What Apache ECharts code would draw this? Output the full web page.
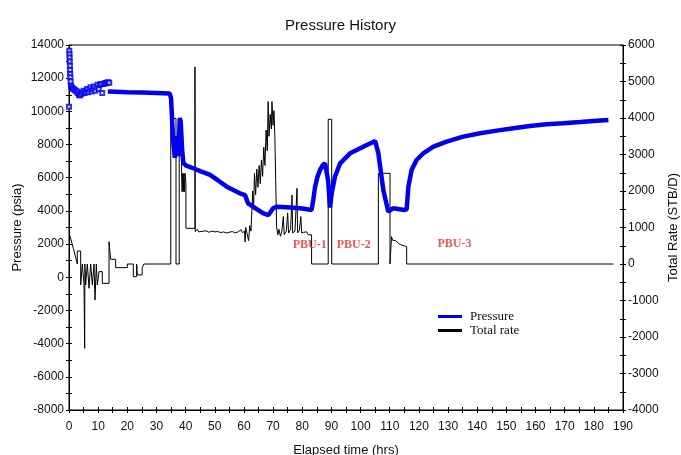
<!DOCTYPE html>
<html>
<head>
<meta charset="utf-8">
<script src="https://cdn.jsdelivr.net/npm/echarts@6/dist/echarts.min.js"></script>
<style>
  html, body { margin: 0; padding: 0; background: #fff; }
  #chart { width: 681px; height: 455px; }
</style>
</head>
<body>
<div id="chart"></div>
<script>
// Early gauge readings (hrs, psia), plotted as open squares
const pressureEarlyT = [0.0, 0.1, 0.15, 0.2, 0.25, 0.3, 0.35, 0.4, 0.45, 0.55, 0.7, 0.9, 1.2, 1.5, 1.9, 2.3, 2.7, 3.0, 3.4, 3.8, 4.2, 4.6, 5.0, 5.4, 5.8, 6.2, 6.6, 7.0, 7.4, 7.8, 8.2, 8.6, 9.0, 9.4, 9.8, 10.2, 10.6, 11.0, 11.4, 11.8, 12.2, 12.6, 13.0, 13.4, 13.8];
const pressureEarlyP = [10280, 13650, 13450, 13250, 13000, 12750, 12500, 12250, 12050, 11800, 11550, 11450, 11400, 11350, 11300, 11250, 11200, 11100, 10980, 10950, 11050, 11150, 11250, 11100, 11200, 11350, 11150, 11300, 11450, 11200, 11350, 11500, 11250, 11450, 11600, 11350, 11600, 11650, 11100, 11650, 11700, 11700, 11720, 11750, 11720];

// Continuous pressure record (hrs, psia)
const pressureT = [13.3, 16, 20, 25, 30, 34.5, 35.0, 35.3, 35.7, 36.3, 37.0, 37.5, 38.0, 38.3, 38.8, 39.2, 40.0, 42.6, 45, 48.4, 51, 54.1, 58.6, 60.4, 61.4, 64, 66.5, 68.4, 70.0, 71.2, 76, 80, 83.2, 83.8, 84.4, 85.2, 86.1, 87.0, 87.8, 88.4, 88.9, 89.5, 90.1, 91.2, 93.0, 96.4, 100.9, 105.0, 106.1, 107.8, 109.5, 110.0, 111.2, 115.0, 115.8, 116.1, 116.4, 117.5, 119.2, 121.5, 125.0, 129.5, 135.2, 141.0, 146.7, 152.4, 158.1, 163.8, 169.5, 175.3, 181.0, 185.0];
const pressureP = [11200, 11180, 11150, 11140, 11110, 11080, 10800, 9700, 8300, 7200, 8500, 7300, 9600, 9400, 7700, 6900, 6750, 6570, 6400, 6170, 5850, 5460, 5060, 4950, 4460, 4150, 3860, 3750, 4160, 4255, 4200, 4150, 4060, 4700, 5460, 6050, 6470, 6750, 6870, 6970, 5800, 4200, 5060, 6060, 6870, 7470, 7870, 8215, 7470, 5260, 3955, 3860, 4160, 4060, 4100, 4800, 5460, 6470, 7070, 7470, 7870, 8175, 8475, 8680, 8840, 8980, 9120, 9220, 9280, 9360, 9440, 9480];

// Total rate (hrs, STB/D), stepped record
const rateT = [0.2, 1.5, 2.85, 2.85, 4.0, 4.0, 4.57, 4.57, 5.15, 5.15, 5.37, 5.37, 5.45, 5.45, 5.71, 5.71, 6.29, 6.29, 6.86, 6.86, 7.43, 7.43, 8.0, 8.0, 8.57, 8.57, 8.92, 8.92, 9.1, 9.1, 9.37, 9.37, 9.72, 9.72, 10.29, 10.29, 11.43, 11.43, 13.72, 13.72, 14.29, 14.29, 16.0, 16.0, 20.0, 20.0, 22.06, 22.06, 23.2, 23.2, 23.43, 23.43, 25.1, 25.1, 25.7, 25.7, 34.9, 34.9, 36.7, 36.7, 37.8, 37.8, 38.6, 38.6, 38.8, 39.0, 39.2, 39.4, 39.6, 39.8, 40.1, 40.1, 43.2, 43.2, 43.3, 44, 44.5, 45, 46, 47, 48, 49, 50, 51, 52, 53, 54, 55, 56, 57, 58, 59, 59.5, 60.2, 60.4, 60.6, 61.2, 61.6, 62.0, 62.4, 62.8, 63.0, 63.3, 63.6, 64.0, 64.4, 64.8, 65.2, 65.6, 66.0, 66.4, 66.8, 67.2, 67.6, 68.0, 68.3, 68.6, 69.0, 69.4, 69.6, 70.0, 70.3, 70.6, 71.2, 71.2, 71.6, 72, 72.5, 73, 73.5, 73.8, 74.5, 75, 75.3, 76, 76.5, 76.7, 77.5, 78.2, 78.4, 79, 79.5, 79.8, 80.5, 81, 81.5, 82, 82.5, 83.2, 83.2, 88.9, 88.9, 90.1, 90.1, 106.1, 106.1, 110.1, 110.1, 110.6, 110.6, 111, 111.3, 111.6, 112, 113, 114, 115, 115.8, 115.8, 186.7];
const rateQ = [800, 430, 0, 356, 356, -575, -575, 0, 0, -575, -575, -2310, -2310, 0, 0, -575, -575, 0, 0, -666, -666, 0, 0, -575, -575, 0, 0, -986, -986, -575, -575, 0, 0, -575, -575, -210, -210, -530, -530, 611, 611, 128, 128, -100, -100, 0, 0, -347, -347, 0, 0, -300, -300, -100, -100, 0, 0, 3990, 3990, 0, 0, 3990, 3990, 2485, 1982, 2485, 1982, 2485, 1982, 2485, 2200, 978, 978, 5400, 885, 950, 880, 930, 900, 910, 870, 900, 880, 890, 860, 880, 850, 870, 890, 850, 880, 940, 860, 900, 600, 1000, 950, 640, 1050, 900, 1600, 2000, 1500, 2485, 1900, 2600, 2100, 2700, 2200, 2850, 2400, 3200, 2700, 3670, 3100, 4450, 3500, 4100, 3700, 4450, 3800, 4200, 3490, 3490, 1022, 800, 950, 760, 900, 1300, 800, 900, 1400, 850, 950, 1890, 850, 900, 2074, 850, 920, 1300, 850, 870, 820, 880, 800, 850, 800, 0, 0, 3964, 3964, 0, 0, 2485, 2485, 0, 0, 748, 650, 700, 611, 640, 570, 520, 500, 475, 0, 0];

// Build-up period annotations (hrs, psia on the left axis)
const pbuNames = ['PBU-1', 'PBU-2', 'PBU-3'];
const pbuT = [82.55, 97.64, 132.2];
const pbuP = [1947, 1947, 1990];

const zip = (a, b) => a.map((v, i) => [v, b[i]]);

const sans = '"Liberation Sans", Arial, sans-serif';
const serif = '"Liberation Serif", "Times New Roman", serif';
const black = '#000';
const blue = '#0000ee';

const tickLabel = { fontFamily: sans, fontSize: 12, color: '#111' };
const nameStyle = { fontFamily: sans, fontSize: 13, color: '#111' };

// Secondary axes only carry the inner half of each tick mark
const innerTicks = { show: true, inside: true, length: 3, lineStyle: { color: black } };
const outerTicks = { show: true, length: 3, lineStyle: { color: black } };
const axisLine = { show: true, onZero: false, lineStyle: { color: black, width: 1 } };
const hiddenLine = { show: false, onZero: false };

const chart = echarts.init(document.getElementById('chart'), null, { renderer: 'canvas' });

chart.setOption({
  animation: false,
  backgroundColor: '#fff',
  title: {
    text: 'Pressure History',
    left: 'center',
    top: 13,
    textStyle: { fontFamily: sans, fontSize: 15, fontWeight: 'normal', color: '#111' }
  },
  grid: {
    left: 69, right: 58, top: 45, bottom: 45,
    outerBoundsMode: 'none',
    containLabel: false,
    show: true, borderColor: black, borderWidth: 1, backgroundColor: 'transparent'
  },
  legend: {
    orient: 'vertical',
    left: 433,
    top: 305,
    icon: 'rect',
    itemWidth: 24,
    itemHeight: 3,
    itemGap: 1,
    data: ['Pressure', 'Total rate'],
    textStyle: { fontFamily: serif, fontSize: 13, color: '#111', lineHeight: 13, padding: [0, 0, 0, 3] }
  },
  xAxis: [
    {
      type: 'value', min: 0, max: 190, interval: 5, position: 'bottom',
      name: 'Elapsed time (hrs)', nameLocation: 'middle', nameGap: 34, nameTextStyle: nameStyle,
      axisLine: axisLine,
      axisTick: outerTicks,
      axisLabel: { ...tickLabel, margin: 11, formatter: v => (v % 10 === 0 ? String(v) : '') },
      splitLine: { show: false }
    },
    {
      type: 'value', min: 0, max: 190, interval: 5, position: 'bottom',
      axisLine: hiddenLine,
      axisTick: innerTicks,
      axisLabel: { show: false },
      splitLine: { show: false }
    }
  ],
  yAxis: [
    {
      type: 'value', min: -8000, max: 14000, interval: 1000, position: 'left',
      name: 'Pressure (psia)', nameLocation: 'middle', nameGap: 45, nameRotate: 90, nameTextStyle: nameStyle,
      nameMoveOverlap: false,
      axisLine: axisLine,
      axisTick: outerTicks,
      axisLabel: { ...tickLabel, margin: 5, formatter: v => (v % 2000 === 0 ? String(v) : '') },
      splitLine: { show: false }
    },
    {
      type: 'value', min: -4000, max: 6000, interval: 500, position: 'right',
      name: 'Total Rate (STB/D)', nameLocation: 'middle', nameGap: 44, nameRotate: 90, nameTextStyle: nameStyle,
      nameMoveOverlap: false,
      axisLine: axisLine,
      axisTick: outerTicks,
      axisLabel: { ...tickLabel, margin: 5, formatter: v => (v % 1000 === 0 ? String(v) : '') },
      splitLine: { show: false }
    },
    {
      type: 'value', min: -8000, max: 14000, interval: 1000, position: 'left',
      axisLine: hiddenLine,
      axisTick: innerTicks,
      axisLabel: { show: false },
      splitLine: { show: false }
    },
    {
      type: 'value', min: -4000, max: 6000, interval: 500, position: 'right',
      axisLine: hiddenLine,
      axisTick: innerTicks,
      axisLabel: { show: false },
      splitLine: { show: false }
    }
  ],
  series: [
    {
      name: 'Pressure',
      type: 'line',
      xAxisIndex: 0, yAxisIndex: 0,
      data: zip(pressureT, pressureP),
      showSymbol: false, symbol: 'none',
      color: blue,
      lineStyle: { color: blue, width: 4.5 },
      z: 4
    },
    {
      name: 'Pressure',
      type: 'scatter',
      xAxisIndex: 0, yAxisIndex: 0,
      data: zip(pressureEarlyT, pressureEarlyP),
      symbol: 'emptyRect',
      symbolSize: 4,
      itemStyle: { color: blue, borderColor: blue, borderWidth: 1 },
      z: 4
    },
    {
      name: 'Total rate',
      type: 'line',
      xAxisIndex: 0, yAxisIndex: 1,
      data: zip(rateT, rateQ),
      showSymbol: false, symbol: 'none',
      color: black,
      lineStyle: { color: black, width: 1 },
      z: 3
    },
    {
      name: 'PBU',
      type: 'scatter',
      xAxisIndex: 0, yAxisIndex: 0,
      data: pbuT.map((t, i) => ({ value: [t, pbuP[i]], name: pbuNames[i] })),
      symbolSize: 0,
      silent: true,
      label: {
        show: true, position: 'inside', formatter: p => p.name,
        fontFamily: serif, fontSize: 12, fontWeight: 'bold', color: '#ee2b2b'
      },
      z: 5
    }
  ]
});
</script>
</body>
</html>
